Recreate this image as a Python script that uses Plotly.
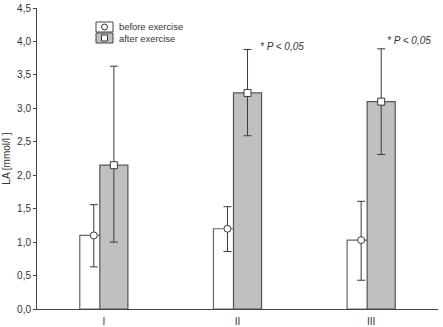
import plotly.graph_objects as go

categories = ["I", "II", "III"]
before_mean = [1.10, 1.20, 1.03]
before_hi = [1.56, 1.53, 1.61]
before_lo = [0.63, 0.86, 0.43]
after_mean = [2.15, 3.23, 3.10]
after_hi = [3.63, 3.88, 3.89]
after_lo = [1.00, 2.59, 2.31]
series_names = ["before exercise", "after exercise"]
sig_label = "* P < 0,05"

idx = list(range(len(categories)))
off = 0.075
bw = 0.21
xb = [i - off for i in idx]
xa = [i + off for i in idx]

ecol = "#3a3a3a"
fig = go.Figure()
fig.add_trace(go.Bar(x=xb, y=before_mean, width=bw, marker=dict(color="white", line=dict(color="#666", width=1.2)),
                     showlegend=False))
fig.add_trace(go.Bar(x=xa, y=after_mean, width=bw, marker=dict(color="#c0c0c0", line=dict(color="#555", width=1.2)),
                     showlegend=False))
fig.add_trace(go.Scatter(x=xb, y=before_mean, mode="markers",
                         marker=dict(symbol="circle", size=7, color="white", line=dict(color=ecol, width=1)),
                         error_y=dict(type="data", symmetric=False,
                                      array=[h - m for h, m in zip(before_hi, before_mean)],
                                      arrayminus=[m - l for l, m in zip(before_lo, before_mean)],
                                      color=ecol, thickness=1, width=4),
                         showlegend=False))
fig.add_trace(go.Scatter(x=xa, y=after_mean, mode="markers",
                         marker=dict(symbol="square", size=7, color="white", line=dict(color=ecol, width=1)),
                         error_y=dict(type="data", symmetric=False,
                                      array=[h - m for h, m in zip(after_hi, after_mean)],
                                      arrayminus=[m - l for l, m in zip(after_lo, after_mean)],
                                      color=ecol, thickness=1, width=4),
                         showlegend=False))

L, R, T, B = 37, 5, 8, 18
W, H = 443, 327
pw, ph = W - L - R, H - T - B
def px(x):
    return (x - L) / pw
def py(y):
    return (H - B - y) / ph

shapes = []
# manual legend
shapes.append(dict(type="rect", xref="paper", yref="paper", x0=px(96), x1=px(113), y0=py(32), y1=py(22),
                   fillcolor="white", line=dict(color="#444", width=1)))
shapes.append(dict(type="rect", xref="paper", yref="paper", x0=px(96), x1=px(113), y0=py(43), y1=py(33),
                   fillcolor="#c0c0c0", line=dict(color="#444", width=1)))
shapes.append(dict(type="circle", xref="paper", yref="paper", x0=px(101.5), x1=px(107.5), y0=py(30), y1=py(24),
                   fillcolor="white", line=dict(color="#333", width=1)))
shapes.append(dict(type="rect", xref="paper", yref="paper", x0=px(101.5), x1=px(107.5), y0=py(41), y1=py(35),
                   fillcolor="white", line=dict(color="#333", width=1)))

font = dict(family="Liberation Sans, Arial, sans-serif", size=10, color="#333")
lfont = dict(family="Liberation Sans, Arial, sans-serif", size=9.4, color="#333")
annotations = [
    dict(xref="paper", yref="paper", x=px(117), y=py(27), text=series_names[0], showarrow=False,
         xanchor="left", yanchor="middle", font=lfont),
    dict(xref="paper", yref="paper", x=px(117), y=py(38.5), text=series_names[1], showarrow=False,
         xanchor="left", yanchor="middle", font=lfont),
    dict(x=1.15, y=3.93, text="<i>" + sig_label + "</i>", showarrow=False, xanchor="left", yanchor="middle", font=font),
    dict(x=2.10, y=4.02, text="<i>" + sig_label + "</i>", showarrow=False, xanchor="left", yanchor="middle", font=font),
]

fig.update_layout(
    width=W, height=H, margin=dict(l=L, r=R, t=T, b=B, autoexpand=False),
    paper_bgcolor="white", plot_bgcolor="white",
    barmode="overlay", separators=",.",
    font=font, shapes=shapes, annotations=annotations,
    xaxis=dict(range=[-0.5, 2.5], tickvals=idx, ticktext=categories, showgrid=False, zeroline=False,
               showline=True, linecolor="#444", linewidth=1, ticks="", tickfont=font, ticklabelstandoff=3,
               automargin=False),
    yaxis=dict(range=[0, 4.5], dtick=0.5, tickformat=".1f", showgrid=False, zeroline=False,
               showline=True, linecolor="#444", linewidth=1, ticks="outside", ticklen=3, tickcolor="#444",
               tickfont=font, automargin=False, title=dict(text="LA [mmol/l ]", font=font, standoff=4)),
)
fig.write_html("out.html")
